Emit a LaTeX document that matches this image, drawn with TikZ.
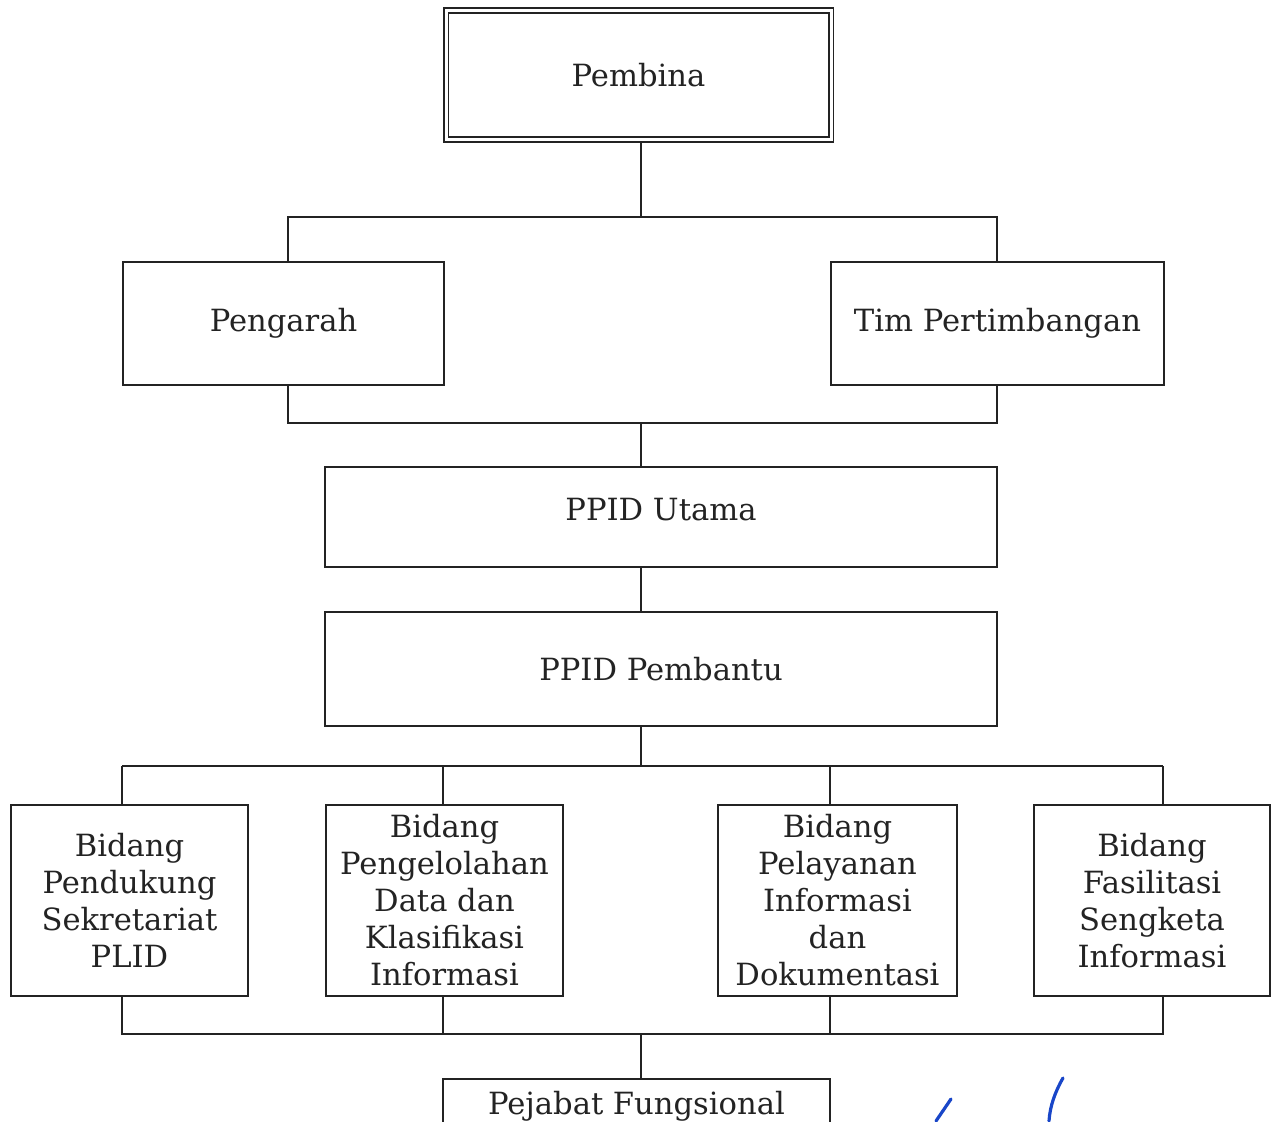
\documentclass[tikz,border=0pt]{standalone}
\usepackage{fontspec}
\setmainfont{DejaVu Serif}
\definecolor{ink}{RGB}{35,35,35}
\definecolor{pen}{RGB}{25,70,200}
\begin{document}
\begin{tikzpicture}[x=0.5pt,y=-0.5pt,
  box/.style={draw=ink, line width=1.2pt, fill=white, inner sep=2pt, align=center, text=ink,
    font=\fontsize{15.3}{18.5}\selectfont},
  conn/.style={draw=ink, line width=0.7pt},
  penstroke/.style={draw=pen, line width=1.6pt, line cap=round}]
\useasboundingbox (0,0) rectangle (1271,1121);
\clip (0,0) rectangle (1271,1121);
% junction coordinates
\coordinate (j1) at (641,217);
\coordinate (bus1l) at (288,217);
\coordinate (bus1r) at (997,217);
\coordinate (j2) at (641,423);
\coordinate (bus2l) at (288,423);
\coordinate (bus2r) at (997,423);
\coordinate (j3) at (641,766);
\coordinate (t1) at (122,766);
\coordinate (t2) at (443,766);
\coordinate (t3) at (830,766);
\coordinate (t4) at (1163,766);
\coordinate (j4) at (641,1034);
\coordinate (u1) at (122,1034);
\coordinate (u2) at (443,1034);
\coordinate (u3) at (830,1034);
\coordinate (u4) at (1163,1034);
% node frames (named, used by the connectors)
\path
  (638.5,75) node[box, draw=none, fill=none, minimum width=192.5pt, minimum height=64.5pt] (pemb) {}
  (283.5,323.5) node[box, draw=none, fill=none, minimum width=160.5pt, minimum height=61.5pt] (peng) {}
  (997.5,323.5) node[box, draw=none, fill=none, minimum width=166.5pt, minimum height=61.5pt] (tim) {}
  (661,517) node[box, draw=none, fill=none, minimum width=336pt, minimum height=50pt] (utama) {}
  (661,669) node[box, draw=none, fill=none, minimum width=336pt, minimum height=57pt] (pembantu) {}
  (129.5,900.5) node[box, draw=none, fill=none, minimum width=118.5pt, minimum height=95.5pt] (b1) {}
  (444.5,900.5) node[box, draw=none, fill=none, minimum width=118.5pt, minimum height=95.5pt] (b2) {}
  (837.5,900.5) node[box, draw=none, fill=none, minimum width=119.5pt, minimum height=95.5pt] (b3) {}
  (1152,900.5) node[box, draw=none, fill=none, minimum width=118pt, minimum height=95.5pt] (b4) {}
  (636.5,1078) node[box, draw=none, fill=none, anchor=north, minimum width=193.5pt, minimum height=80pt] (pej) {};
% connectors
\draw[conn] (pemb.south -| j1) -- (j1);
\draw[conn] (bus1l |- peng.north) -- (bus1l) -- (bus1r) -- (bus1r |- tim.north);
\draw[conn] (bus2l |- peng.south) -- (bus2l) -- (bus2r) -- (bus2r |- tim.south);
\draw[conn] (j2) -- (j2 |- utama.north);
\draw[conn] (utama.south -| j2) -- (j2 |- pembantu.north);
\draw[conn] (pembantu.south -| j3) -- (j3);
\draw[conn] (t1) -- (t4);
\draw[conn] (t1) -- (t1 |- b1.north);
\draw[conn] (t2) -- (t2 |- b2.north);
\draw[conn] (t3) -- (t3 |- b3.north);
\draw[conn] (t4) -- (t4 |- b4.north);
\draw[conn] (u1 |- b1.south) -- (u1) -- (u4) -- (u4 |- b4.south);
\draw[conn] (u2 |- b2.south) -- (u2);
\draw[conn] (u3 |- b3.south) -- (u3);
\draw[conn] (j4) -- (j4 |- pej.north);
% boxes
\node[box, line width=0.8pt, double=white, double distance=1.5pt, minimum width=192.5pt, minimum height=64.5pt] at (pemb) {Pembina};
\node[box, minimum width=160.5pt, minimum height=61.5pt] at (peng) {Pengarah};
\node[box, minimum width=166.5pt, minimum height=61.5pt] at (tim) {Tim Pertimbangan};
\node[box, minimum width=336pt, minimum height=50pt] at (utama) {\raisebox{3.5pt}[\height][\depth]{PPID Utama}};
\node[box, minimum width=336pt, minimum height=57pt] at (pembantu) {PPID Pembantu};
\node[box, minimum width=118.5pt, minimum height=95.5pt] at (b1) {Bidang\\Pendukung\\Sekretariat\\PLID};
\node[box, minimum width=118.5pt, minimum height=95.5pt] at (b2) {Bidang\\Pengelolahan\\Data dan\\Klasifikasi\\Informasi};
\node[box, minimum width=119.5pt, minimum height=95.5pt] at (b3) {Bidang\\Pelayanan\\Informasi\\dan\\Dokumentasi};
\node[box, minimum width=118pt, minimum height=95.5pt] at (b4) {Bidang\\Fasilitasi\\Sengketa\\Informasi};
\node[box, anchor=north, minimum width=193.5pt, text height=11pt, text depth=60pt, inner ysep=6.5pt] at (pej.north) {Pejabat Fungsional};
% pen marks
\draw[penstroke] (951,1099) -- (936,1121);
\draw[penstroke] (1063,1078) .. controls (1055,1092) and (1050,1106) .. (1049,1121);
\end{tikzpicture}
\end{document}
